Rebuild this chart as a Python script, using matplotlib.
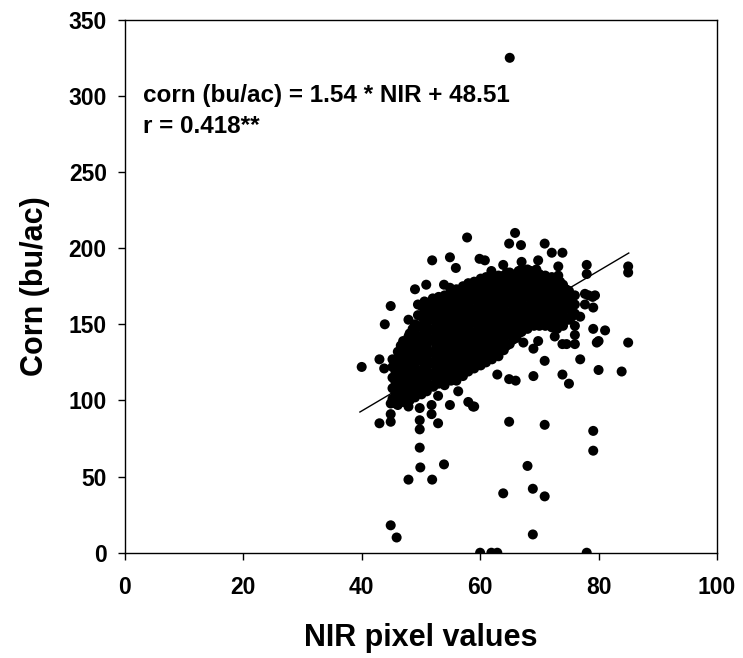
"""
Corn yield vs NIR pixel values scatter with fitted line.
"""

import numpy as np
import matplotlib
matplotlib.use("Agg")
import matplotlib.pyplot as plt

plt.rcParams["font.family"] = ["Liberation Sans", "DejaVu Sans"]
plt.rcParams["font.weight"] = "bold"

# ── Dense cluster, read column by column ──────────────────────────────────────
core_cols = [
    (45.2, [101, 108, 115, 122, 127]),
    (46.1, [97, 104, 111, 118, 125, 132]),
    (47.0, [99, 106, 113, 120, 127, 134, 139]),
    (48.1, [100, 108, 115, 122, 129, 136, 144]),
    (49.0, [102, 109, 117, 124, 131, 138, 146, 150]),
    (50.1, [104, 111, 119, 126, 133, 141, 148, 155, 162]),
    (51.0, [106, 113, 121, 128, 136, 143, 151, 158, 164]),
    (52.1, [109, 116, 124, 131, 139, 146, 153, 160, 166]),
    (53.0, [111, 118, 126, 133, 141, 148, 155, 162, 168]),
    (54.0, [110, 117, 125, 132, 140, 147, 154, 161, 169]),
    (55.1, [113, 120, 128, 135, 143, 150, 158, 165, 171]),
    (56.0, [113, 121, 129, 136, 144, 151, 159, 166, 173]),
    (57.1, [116, 123, 131, 138, 146, 153, 161, 168, 175]),
    (58.0, [119, 126, 134, 141, 149, 156, 164, 171, 177]),
    (59.0, [121, 128, 136, 143, 151, 158, 166, 173, 178]),
    (60.1, [123, 130, 138, 145, 153, 160, 167, 174, 180]),
    (61.0, [125, 132, 140, 147, 155, 162, 169, 176, 181]),
    (62.0, [127, 134, 142, 149, 156, 163, 170, 177, 182]),
    (63.1, [129, 136, 143, 150, 157, 164, 171, 178, 182]),
    (64.0, [133, 140, 147, 154, 161, 168, 175, 182]),
    (65.0, [137, 144, 151, 158, 165, 172, 178, 184]),
    (66.1, [141, 148, 155, 162, 169, 176, 183]),
    (67.0, [145, 152, 159, 166, 173, 180, 186]),
    (68.0, [147, 154, 161, 168, 175, 181, 186]),
    (69.1, [149, 156, 163, 170, 177, 184]),
    (70.0, [149, 156, 163, 170, 177, 183]),
    (71.0, [149, 156, 163, 170, 176, 182]),
    (72.1, [148, 155, 162, 169, 175, 181]),
    (73.0, [147, 154, 161, 168, 174, 180]),
    (74.0, [149, 156, 163, 170, 176]),
    (75.0, [153, 160, 166, 172]),
    (76.0, [157, 163, 169]),
]
# second pass, points sitting between the columns above
core_cols_b = [
    (45.7, [98, 105, 112, 119, 126]),
    (46.6, [101, 108, 115, 122, 129, 136]),
    (47.5, [103, 110, 117, 124, 131, 138]),
    (48.6, [104, 112, 119, 126, 133, 140, 147]),
    (49.5, [106, 113, 120, 128, 135, 142, 149, 156, 163]),
    (50.6, [108, 115, 122, 130, 137, 144, 152, 159, 165]),
    (51.5, [110, 117, 125, 132, 140, 147, 155, 162]),
    (52.6, [112, 120, 127, 135, 142, 150, 157, 164]),
    (53.5, [114, 121, 129, 137, 144, 151, 158, 165]),
    (54.6, [114, 121, 129, 136, 144, 151, 158, 166]),
    (55.5, [116, 124, 132, 139, 147, 154, 162, 169]),
    (56.6, [117, 125, 133, 140, 148, 155, 163, 170]),
    (57.5, [120, 127, 135, 142, 150, 157, 165, 172]),
    (58.5, [122, 130, 138, 145, 153, 160, 168, 175]),
    (59.6, [125, 132, 140, 147, 155, 162, 170, 176]),
    (60.5, [127, 134, 142, 149, 157, 164, 171, 178]),
    (61.5, [129, 136, 144, 151, 158, 166, 173, 179]),
    (62.6, [131, 138, 146, 153, 160, 167, 174, 180]),
    (63.5, [133, 140, 147, 154, 161, 168, 175, 181]),
    (64.5, [136, 143, 150, 157, 164, 171, 178, 184]),
    (65.6, [140, 147, 154, 161, 168, 175, 181]),
    (66.5, [144, 151, 158, 165, 172, 179, 185]),
    (67.5, [148, 155, 162, 169, 176, 183]),
    (68.6, [151, 158, 165, 172, 179, 185]),
    (69.5, [152, 159, 166, 173, 180, 186]),
    (70.5, [152, 159, 166, 173, 180]),
    (71.6, [152, 159, 166, 172, 179]),
    (72.5, [151, 158, 165, 172, 178]),
    (73.5, [151, 158, 165, 172, 178]),
    (74.5, [153, 160, 167, 173]),
    (75.5, [155, 162, 168]),
]
nir_core = [x for cols in (core_cols, core_cols_b) for x, ys in cols for _ in ys]
corn_core = [y for cols in (core_cols, core_cols_b) for _, ys in cols for y in ys]

# ── Scattered points around the cluster ───────────────────────────────────────
nir_outer = [57.8, 51.9, 54.9, 55.9, 59.9, 50.9, 49.0, 53.9, 54.9, 44.9,
             43.9, 47.9, 47.9, 52.0, 56.0, 58.0, 59.7, 65.9, 64.9, 66.9,
             70.9, 72.1, 73.9, 60.8, 63.9, 61.9, 67.0, 69.8, 73.2, 78.0,
             78.0, 77.7, 79.4, 77.7, 76.9, 76.0, 79.1, 67.3, 69.8, 72.6,
             74.6, 76.0, 85.0, 85.0, 79.0, 79.1, 81.1, 80.0, 85.0, 80.0,
             83.9, 79.1, 79.1, 69.0, 73.9, 76.0, 79.7, 70.9, 76.9, 69.0,
             73.9, 75.0, 64.9, 66.0, 62.9, 58.8, 64.9, 70.9, 68.0, 49.9,
             53.9, 47.9, 51.9, 63.9, 68.9, 70.9, 44.9, 45.9, 68.9, 60.0,
             61.9, 62.9, 78.0, 40.0, 43.0, 43.8, 44.9, 44.9, 44.9, 43.0,
             47.9, 49.8, 49.8, 49.8, 49.8, 51.8, 51.8, 52.9, 52.9, 54.9,
             58.0, 59.0, 56.3, 65.0, 73.2, 78.3]
corn_outer = [207, 192, 194, 187, 193, 176, 173, 176, 174, 162,
              150, 153, 142, 167, 165, 168, 178, 210, 203, 202,
              203, 197, 197, 192, 189, 185, 191, 192, 188, 189,
              183, 170, 169, 163, 155, 149, 147, 138, 139, 142,
              137, 143, 188, 184, 168, 161, 146, 139, 138, 120,
              119, 80, 67, 134, 137, 137, 138, 126, 127, 116,
              117, 111, 114, 113, 117, 96, 86, 84, 57, 56,
              58, 48, 48, 39, 42, 37, 18, 10, 12, 0,
              0, 0, 0, 122, 127, 121, 98, 91, 86, 85,
              96, 95, 87, 81, 69, 97, 91, 103, 85, 97,
              99, 96, 106, 325, 182, 169]

nir = np.array(nir_core + nir_outer)
corn = np.array(corn_core + corn_outer)

# fitted line as drawn on the figure
fit_x = [39.7, 85.1]
fit_y = [92.4, 196.8]

fig = plt.figure(figsize=(7.43, 6.58), dpi=100)
ax = fig.add_axes([0.168, 0.16, 0.797, 0.81])

ax.scatter(nir, corn, s=52, c="black", edgecolors="none", zorder=3)
ax.plot(fit_x, fit_y, color="black", linewidth=1, zorder=2)

ax.set_xlim(0, 100)
ax.set_ylim(0, 350)
ax.set_xticks(range(0, 101, 20))
ax.set_yticks(range(0, 351, 50))
ax.tick_params(direction="out", length=5, width=1, labelsize=16.5,
               top=False, right=False)
ax.tick_params(axis="x", pad=12)
ax.tick_params(axis="y", pad=8)
for lab in ax.get_xticklabels() + ax.get_yticklabels():
    lab.set_fontweight("bold")
for sp in ax.spines.values():
    sp.set_linewidth(1)

ax.set_xlabel("NIR pixel values", fontsize=22, fontweight="bold", labelpad=17)
ax.set_ylabel("Corn (bu/ac)", fontsize=22, fontweight="bold", labelpad=13)

ax.text(3, 300, "corn (bu/ac) = 1.54 * NIR + 48.51", fontsize=17.5,
        fontweight="bold", va="center")
ax.text(3, 280, "r = 0.418**", fontsize=17.5, fontweight="bold", va="center")

fig.savefig("out.png", dpi=100)
